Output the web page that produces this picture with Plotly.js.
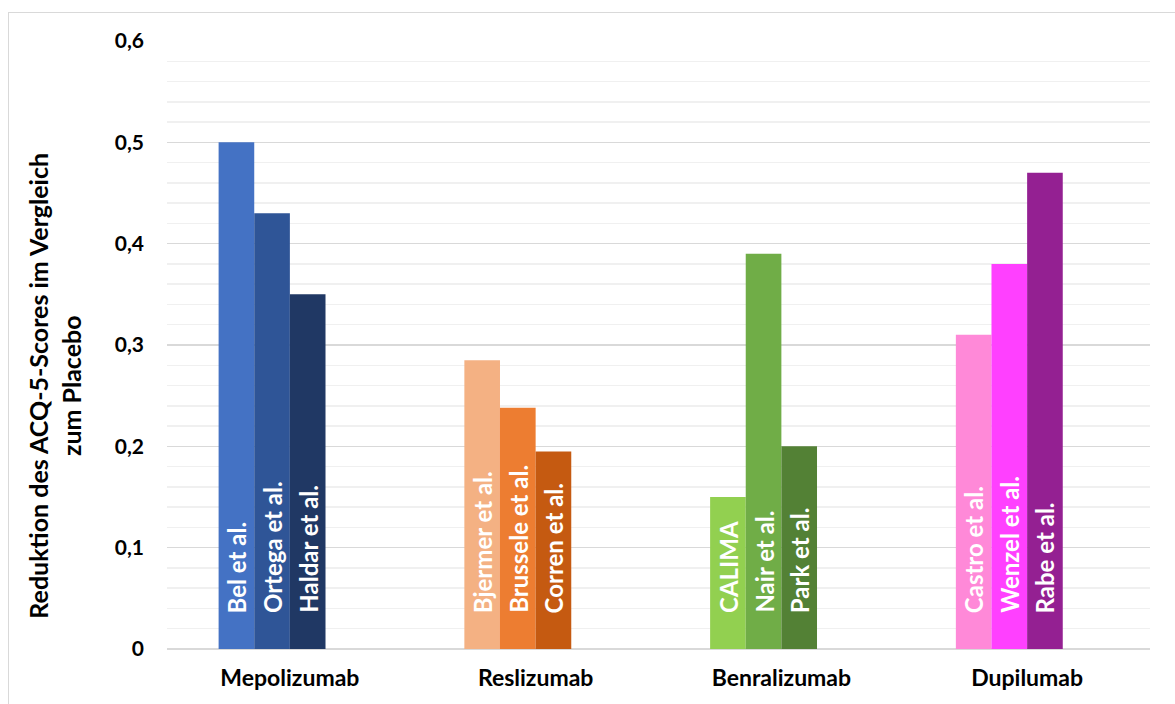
<!DOCTYPE html>
<html>
<head>
<meta charset="utf-8">
<script src="https://cdn.plot.ly/plotly-3.0.1.min.js"></script>
<style>
  html, body { margin: 0; padding: 0; background: #ffffff; overflow: hidden; }
  #frame { position: absolute; left: 8px; top: 12px; width: 1200px; height: 720px; border: 1px solid #D9D9D9; box-sizing: border-box; }
  #chart { position: absolute; left: 0; top: 0; width: 1175px; height: 704px; }
</style>
</head>
<body>
<div id="frame"></div>
<div id="chart"></div>
<script>
// ---- data ----
const categories = ['Mepolizumab', 'Reslizumab', 'Benralizumab', 'Dupilumab'];

const studies1 = ['Bel et al.', 'Bjermer et al.', 'CALIMA', 'Castro et al.'];
const values1  = [0.50, 0.285, 0.15, 0.31];
const colors1  = ['#4472C4', '#F4B183', '#92D050', '#FF89D8'];

const studies2 = ['Ortega et al.', 'Brussele et al.', 'Nair et al.', 'Wenzel et al.'];
const values2  = [0.43, 0.238, 0.39, 0.38];
const colors2  = ['#2F5597', '#ED7D31', '#70AD47', '#FF40FF'];

const studies3 = ['Haldar et al.', 'Corren et al.', 'Park et al.', 'Rabe et al.'];
const values3  = [0.35, 0.195, 0.20, 0.47];
const colors3  = ['#203864', '#C55A11', '#538135', '#942092'];

const emptySlot = [null, null, null, null];

const yTickVals = [0, 0.1, 0.2, 0.3, 0.4, 0.5, 0.6];
const yTickText = ['0', '0,1', '0,2', '0,3', '0,4', '0,5', '0,6'];

const yTitle = 'Reduktion des ACQ-5-Scores im Vergleich<br>zum Placebo';

// ---- chart ----
const FONT = 'Lato, Carlito, Calibri, sans-serif';
const bargap = 0.42;
const nSlots = 4;
const slotW = (1 - bargap) / nSlots;

const series = [
  {names: studies1, vals: values1, cols: colors1},
  {names: studies2, vals: values2, cols: colors2},
  {names: studies3, vals: values3, cols: colors3}
];

const traces = series.map(s => ({
  type: 'bar',
  x: categories,
  y: s.vals,
  marker: {color: s.cols, line: {width: 0}},
  hoverinfo: 'x+y',
  showlegend: false
}));
traces.push({type: 'bar', x: categories, y: emptySlot, marker: {color: 'rgba(0,0,0,0)'}, hoverinfo: 'skip', showlegend: false});

const annotations = [];
series.forEach((s, k) => {
  s.names.forEach((name, i) => {
    annotations.push({
      xref: 'x', yref: 'y',
      x: i + (k - (nSlots - 1) / 2) * slotW,
      y: 0,
      text: name,
      textangle: -90,
      showarrow: false,
      xanchor: 'center',
      yanchor: 'bottom',
      yshift: 34,
      font: {family: FONT, size: 24, color: '#FFFFFF', weight: 'bold'}
    });
  });
});

// y-axis title (drawn as a rotated annotation so it can sit slightly below the axis centre, as in the original)
annotations.push({
  xref: 'paper', yref: 'paper',
  x: -0.114, y: 0.433,
  xanchor: 'center', yanchor: 'middle',
  text: yTitle,
  textangle: -90,
  showarrow: false,
  align: 'center',
  font: {family: FONT, size: 25, color: '#000000', weight: 'bold'}
});

const layout = {
  width: 1175,
  height: 704,
  margin: {l: 167, r: 25, t: 41, b: 55, pad: 0},
  paper_bgcolor: 'rgba(0,0,0,0)',
  plot_bgcolor: 'rgba(0,0,0,0)',
  barmode: 'group',
  bargap: bargap,
  bargroupgap: 0,
  font: {family: FONT, color: '#000000'},
  xaxis: {
    type: 'category',
    showgrid: false,
    showline: false,
    zeroline: false,
    ticks: '',
    ticklabelstandoff: 13,
    tickfont: {family: FONT, size: 23, color: '#000000', weight: 'bold'}
  },
  yaxis: {
    range: [0, 0.6],
    tickvals: yTickVals,
    ticktext: yTickText,
    showgrid: true,
    gridcolor: '#D9D9D9',
    gridwidth: 1.5,
    zeroline: true,
    zerolinecolor: '#D9D9D9',
    zerolinewidth: 2,
    showline: false,
    ticks: '',
    ticklabelstandoff: 22,
    tickfont: {family: FONT, size: 21, color: '#000000', weight: 'bold'},
    minor: {dtick: 0.02, tick0: 0, showgrid: true, gridcolor: '#F0F0F0', gridwidth: 1.5, ticks: ''},
    automargin: false
  },
  annotations: annotations
};

Plotly.newPlot('chart', traces, layout, {displayModeBar: false, staticPlot: true});
</script>
</body>
</html>
